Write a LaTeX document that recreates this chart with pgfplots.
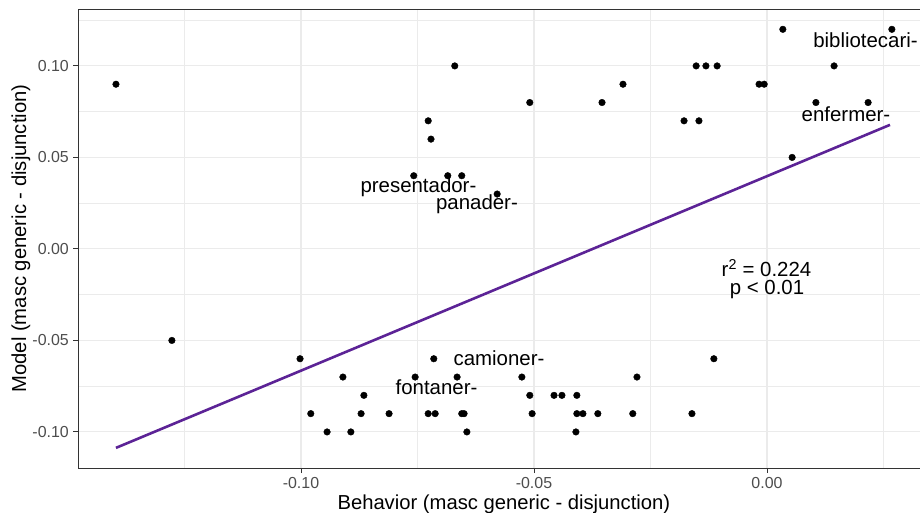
\documentclass[border=0pt]{standalone}
\usepackage{pgfplots}
\pgfplotsset{compat=1.18}
\usepackage{fontspec}
\setmainfont{Liberation Sans}
\definecolor{gridmaj}{HTML}{EBEBEB}
\definecolor{frame}{HTML}{333333}
\definecolor{ticktxt}{HTML}{4D4D4D}
\definecolor{regline}{RGB}{92,35,150}
\begin{document}
\begin{tikzpicture}
\useasboundingbox (0,0) rectangle (920bp,513bp);
\begin{axis}[
  at={(78bp,45bp)}, anchor=south west,
  scale only axis, width=845bp, height=459bp,
  xmin=-0.14785, xmax=0.03348, ymin=-0.1197, ymax=0.1311,
  xtick={-0.1,-0.05,0}, xticklabels={-0.10,-0.05,0.00},
  ytick={-0.1,-0.05,0,0.05,0.1}, yticklabels={-0.10,-0.05,0.00,0.05,0.10},
  minor xtick={-0.125,-0.075,-0.025,0.025},
  minor ytick={-0.075,-0.025,0.025,0.075,0.125},
  grid=both,
  major grid style={draw=gridmaj, line width=1.1bp},
  minor grid style={draw=gridmaj, line width=0.55bp},
  tick align=outside, major tick length=5bp, minor tick length=0bp,
  tick style={draw=frame, line width=0.9bp},
  axis line style={draw=frame, line width=0.9bp},
  xtick pos=bottom, ytick pos=left,
  ticklabel style={font=\fontsize{16}{19}\selectfont, text=ticktxt},
  yticklabel style={inner sep=0pt, xshift=-4bp},
  xticklabel style={inner sep=0pt, yshift=-4bp},
  scaled ticks=false,
  xlabel={Behavior (masc generic - disjunction)},
  ylabel={Model (masc generic - disjunction)},
  label style={font=\fontsize{20.3}{24}\selectfont},
  xlabel style={at={(axis description cs:0.5040,0)}, anchor=base, yshift=-41bp, inner sep=0pt},
  ylabel style={at={([xshift=-57bp]axis description cs:0,0.5)}, anchor=center, inner sep=0pt},
  clip=false,
]
\addplot[only marks, mark=*, mark size=3.3bp, mark options={fill=black, draw=black}] coordinates {
(-0.1397,0.09) (-0.1277,-0.05) (-0.1002,-0.06) (-0.0979,-0.09) (-0.0944,-0.10)
(-0.0910,-0.07) (-0.0893,-0.10) (-0.0871,-0.09) (-0.0865,-0.08) (-0.0811,-0.09)
(-0.0758,0.04) (-0.0755,-0.07) (-0.0727,0.07) (-0.0727,-0.09) (-0.0721,0.06)
(-0.0715,-0.06) (-0.0712,-0.09) (-0.0685,0.04) (-0.0670,0.10) (-0.0665,-0.07)
(-0.0655,0.04) (-0.0655,-0.09) (-0.0650,-0.09) (-0.0644,-0.10) (-0.0579,0.03)
(-0.0526,-0.07) (-0.0509,0.08) (-0.0509,-0.08) (-0.0504,-0.09) (-0.0457,-0.08)
(-0.0440,-0.08) (-0.0410,-0.10) (-0.0408,-0.08) (-0.0408,-0.09) (-0.0395,-0.09)
(-0.0363,-0.09) (-0.0354,0.08) (-0.0309,0.09) (-0.0288,-0.09) (-0.0279,-0.07)
(-0.0178,0.07) (-0.0161,-0.09) (-0.0152,0.10) (-0.0146,0.07) (-0.0131,0.10)
(-0.0114,-0.06) (-0.0107,0.10) (-0.0017,0.09) (-0.0006,0.09) (0.0034,0.12)
(0.0054,0.05) (0.0105,0.08) (0.0144,0.10) (0.0217,0.08) (0.0268,0.12)
};
\addplot[regline, line width=2.6bp] coordinates {(-0.1397,-0.1087) (0.0264,0.0678)};
\begin{scope}[every node/.style={font=\fontsize{20.5}{24}\selectfont, anchor=base, inner sep=0pt}]
\node at (axis cs:0.02114,0.1102) {bibliotecari-};
\node at (axis cs:0.01695,0.0696) {enfermer-};
\node at (axis cs:-0.07479,0.0306) {presentador-};
\node at (axis cs:-0.06223,0.0213) {panader-};
\node at (axis cs:-0.05751,-0.0639) {camioner-};
\node at (axis cs:-0.07092,-0.0798) {fontaner-};
\node at (axis cs:-0.0001,-0.01514) {r\textsuperscript{2} = 0.224};
\node at (axis cs:0.0000,-0.02514) {p {<} 0.01};
\end{scope}
\end{axis}
\end{tikzpicture}
\end{document}
